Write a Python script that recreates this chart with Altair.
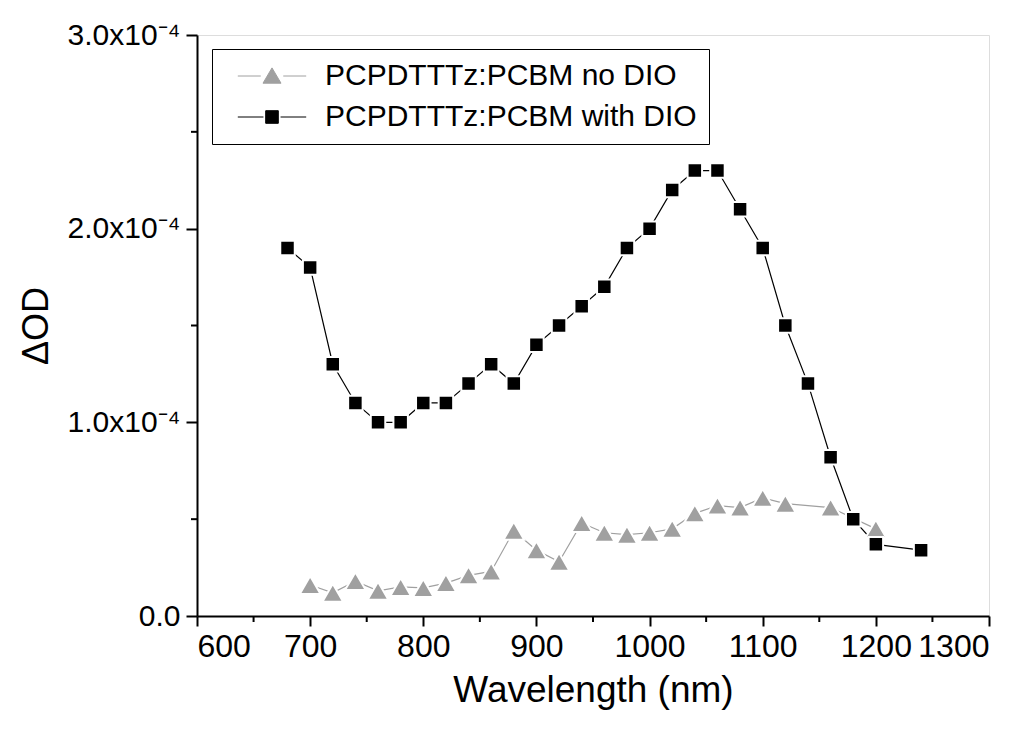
import altair as alt
import pandas as pd

# ---- data ----
series_names = ["PCPDTTTz:PCBM no DIO", "PCPDTTTz:PCBM with DIO"]

wl_no_dio = [700, 720, 740, 760, 780, 800, 820, 840, 860, 880, 900, 920, 940,
             960, 980, 1000, 1020, 1040, 1060, 1080, 1100, 1120, 1160, 1200]
od_no_dio = [0.16, 0.12, 0.18, 0.13, 0.15, 0.145, 0.17, 0.21, 0.23, 0.44, 0.34, 0.28, 0.48,
             0.43, 0.42, 0.43, 0.45, 0.53, 0.57, 0.56, 0.61, 0.58, 0.56, 0.45]  # x1e-4

wl_dio = [680, 700, 720, 740, 760, 780, 800, 820, 840, 860, 880, 900, 920, 940,
          960, 980, 1000, 1020, 1040, 1060, 1080, 1100, 1120, 1140, 1160, 1180, 1200, 1240]
od_dio = [1.9, 1.8, 1.3, 1.1, 1.0, 1.0, 1.1, 1.1, 1.2, 1.3, 1.2, 1.4, 1.5, 1.6,
          1.7, 1.9, 2.0, 2.2, 2.3, 2.3, 2.1, 1.9, 1.5, 1.2, 0.82, 0.50, 0.37, 0.34]  # x1e-4

x_major = [600, 700, 800, 900, 1000, 1100, 1200, 1300]
x_minor = [650, 750, 850, 950, 1050, 1150, 1250]
y_major = [0.0, 1e-4, 2e-4, 3e-4]
y_minor = [0.5e-4, 1.5e-4, 2.5e-4]

df_no = pd.DataFrame({"wl": wl_no_dio, "od": [v * 1e-4 for v in od_no_dio],
                      "series": series_names[0]})
df_with = pd.DataFrame({"wl": wl_dio, "od": [v * 1e-4 for v in od_dio],
                        "series": series_names[1]})
df_all = pd.concat([df_no, df_with], ignore_index=True)

W, H = 792, 581
FONT = "Liberation Sans"
GRAY = "#a0a0a0"

xscale = alt.Scale(domain=[600, 1300], nice=False, zero=False)
yscale = alt.Scale(domain=[0, 3e-4], nice=False)

x_enc = alt.X("wl:Q", scale=xscale, title="Wavelength (nm)",
              axis=alt.Axis(values=x_major, format="d", tickSize=10, tickWidth=2,
                            domainWidth=2, domainColor="black", tickColor="black",
                            labelFontSize=32, labelFont=FONT, labelColor="black",
                            labelPadding=5, titleFontSize=37, titleFont=FONT,
                            titleFontWeight="normal", titleColor="black",
                            titlePadding=10, grid=False))
y_enc = alt.Y("od:Q", scale=yscale, title="ΔOD",
              axis=alt.Axis(values=y_major, tickSize=11, tickWidth=2,
                            domainWidth=2, domainColor="black", tickColor="black",
                            labelExpr="datum.value == 0 ? '0.0' : format(datum.value*1e4, '.1f') + 'x10⁻⁴'",
                            labelFontSize=30, labelFont=FONT, labelColor="black",
                            labelPadding=6, titleFontSize=36, titleFont=FONT,
                            titleFontWeight="normal", titleColor="black",
                            titlePadding=12, grid=False))

line_no = alt.Chart(df_no).mark_line(color=GRAY, strokeWidth=1.2).encode(x=x_enc, y=y_enc)
line_with = alt.Chart(df_with).mark_line(color="black", strokeWidth=1.2).encode(x="wl:Q", y="od:Q")
pts_no = alt.Chart(df_no).mark_point(shape="triangle-up", size=430, filled=True, fill=GRAY,
                                     opacity=1, stroke="white", strokeWidth=2).encode(x="wl:Q", y="od:Q")
pts_with = alt.Chart(df_with).mark_point(shape="square", size=210, filled=True, fill="black",
                                         opacity=1, stroke="white", strokeWidth=2).encode(x="wl:Q", y="od:Q")

# legend symbols: line + marker
tri_path = "M-3.8,0H-1.25M1.25,0H3.8M-1,0.8L1,0.8L0,-0.9Z"
sq_path = "M-3.8,0H-0.95M0.95,0H3.8M-0.7,-0.7H0.7V0.7H-0.7Z"

legend = alt.Legend(
    title=None, orient="none", legendX=15, legendY=14,
    labelFont=FONT, labelFontSize=30, labelColor="black", labelLimit=0,
    symbolSize=324, symbolOffset=33, labelOffset=38, symbolOpacity=1,
    symbolStrokeWidth=1,
    padding=12, rowPadding=11, strokeColor="black", fillColor="white",
)
col_scale = alt.Scale(domain=series_names, range=[GRAY, "#000000"])
legend_layer = alt.Chart(df_all).mark_point(size=324, opacity=0, strokeWidth=1).encode(
    x="wl:Q", y="od:Q",
    fill=alt.Fill("series:N", scale=col_scale, legend=legend),
    stroke=alt.Stroke("series:N", scale=col_scale, legend=legend),
    shape=alt.Shape("series:N", scale=alt.Scale(domain=series_names, range=[tri_path, sq_path]),
                    legend=legend),
)

xminor_df = pd.DataFrame({"wl": x_minor})
yminor_df = pd.DataFrame({"od": y_minor})

xminor = alt.Chart(xminor_df).mark_rule(color="black", strokeWidth=2).encode(
    x="wl:Q", y=alt.value(H), y2=alt.value(H + 6))
yminor = alt.Chart(yminor_df).mark_rule(color="black", strokeWidth=2).encode(
    y="od:Q", x=alt.value(0), x2=alt.value(-6))

chart = alt.layer(line_no, line_with, pts_no, pts_with, legend_layer, xminor, yminor).properties(
    width=W, height=H,
    autosize=alt.AutoSizeParams(type="none"),
    padding={"left": 189, "top": 27, "right": 33, "bottom": 105},
).configure_view(stroke="black", strokeWidth=2).configure(background="white")

chart.save("out.html", embed_options={"renderer": "svg", "actions": False})
